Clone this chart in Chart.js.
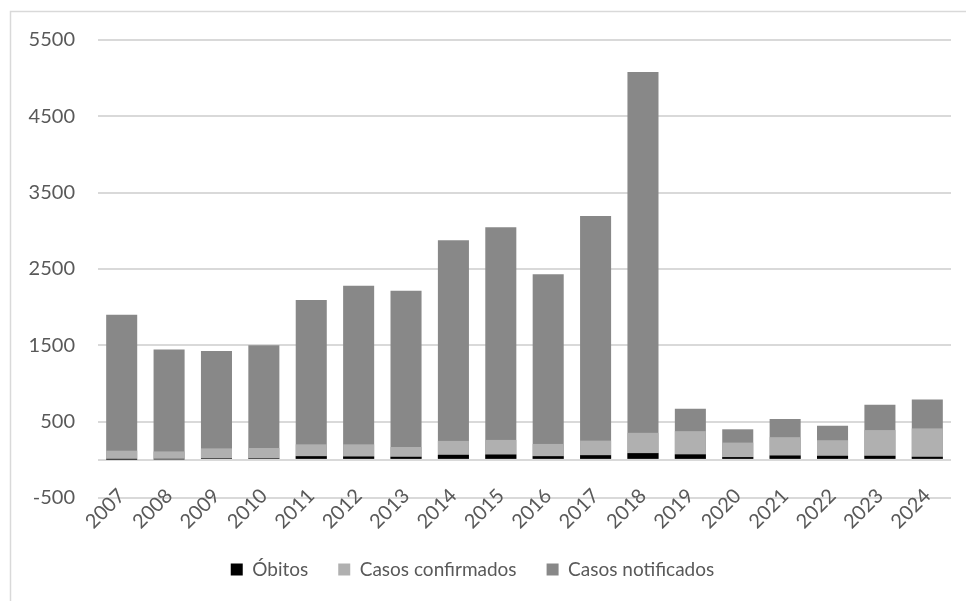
<!DOCTYPE html>
<html>
<head>
<meta charset="utf-8">
<script src="https://cdn.jsdelivr.net/npm/chart.js@4/dist/chart.umd.min.js"></script>
<style>
  html, body { margin: 0; padding: 0; background: #fff; }
  #wrap { width: 966px; height: 601px; }
</style>
</head>
<body>
<div id="wrap"><canvas id="chart" width="966" height="601"></canvas></div>
<script>
const years = ['2007', '2008', '2009', '2010', '2011', '2012', '2013', '2014', '2015',
  '2016', '2017', '2018', '2019', '2020', '2021', '2022', '2023', '2024'];
const obitos = [2, 5, 20, 20, 48, 44, 40, 66, 70, 48, 61, 88, 72, 36, 57, 53, 53, 40];
const confirmados = [120, 110, 150, 155, 203, 203, 168, 248, 261, 208, 252, 354, 376, 226, 297, 257, 390, 412];
const notificados = [1900, 1445, 1426, 1501, 2093, 2279, 2214, 2876, 3047, 2430, 3193, 5080, 669, 400, 534, 445, 720, 789];
const yTicks = [-500, 0, 500, 1500, 2500, 3500, 4500, 5500];

const txt = '#595959', grid = '#d9d9d9';
Chart.defaults.font.family = "Lato, 'Open Sans', sans-serif";
Chart.defaults.font.size = 20;
Chart.defaults.color = txt;

// light frame on left and top, like the cropped excel chart
const frame = {
    id: 'frame',
    beforeDraw: (chart) => {
        const ctx = chart.ctx;
        ctx.save();
        ctx.strokeStyle = grid;
        ctx.lineWidth = 1.5;
        ctx.beginPath();
        ctx.moveTo(10.5, chart.height);
        ctx.lineTo(10.5, 11.5);
        ctx.lineTo(chart.width, 11.5);
        ctx.stroke();
        ctx.restore();
    }
};

// legend in the original sits a bit left of the canvas centre
const legendShift = {
    id: 'legendShift',
    afterLayout: (chart) => {
        chart.legend.left -= 8;
        chart.legend.right -= 8;
    }
};

const mkSet = (label, data, color) => ({
    label: label,
    data: data,
    backgroundColor: color,
    borderWidth: 0,
    grouped: false,
    barPercentage: 0.655,
    categoryPercentage: 1
});

new Chart(document.getElementById('chart'), {
    type: 'bar',
    data: {
        labels: years,
        datasets: [
            mkSet('Óbitos', obitos, '#000000'),
            mkSet('Casos confirmados', confirmados, '#b0b0b0'),
            mkSet('Casos notificados', notificados, '#888888')
        ]
    },
    plugins: [frame, legendShift],
    options: {
        responsive: false,
        animation: false,
        layout: {padding: {left: 10, right: 15, top: 40, bottom: 12}},
        plugins: {
            tooltip: {enabled: false},
            legend: {
                position: 'bottom',
                labels: {boxWidth: 12, boxHeight: 12, padding: 30, color: txt, font: {size: 19}}
            }
        },
        scales: {
            x: {
                grid: {display: false, drawTicks: false},
                border: {display: false},
                ticks: {minRotation: 45, maxRotation: 45, padding: -14, color: txt},
                afterFit: (s) => {
                    s.height = 32;
                    // labels sit partly above the axis box, don't clip them
                    s._computeLabelArea = () => undefined;
                }
            },
            y: {
                min: -500,
                max: 5500,
                afterBuildTicks: (s) => { s.ticks = yTicks.map(v => ({value: v})); },
                afterFit: (s) => { s.width = 88; },
                grid: {color: grid, lineWidth: 2, drawTicks: false},
                border: {display: false},
                ticks: {
                    padding: 23,
                    color: txt,
                    callback: (v) => v === 0 ? '' : String(v)
                }
            }
        }
    }
});
</script>
</body>
</html>
